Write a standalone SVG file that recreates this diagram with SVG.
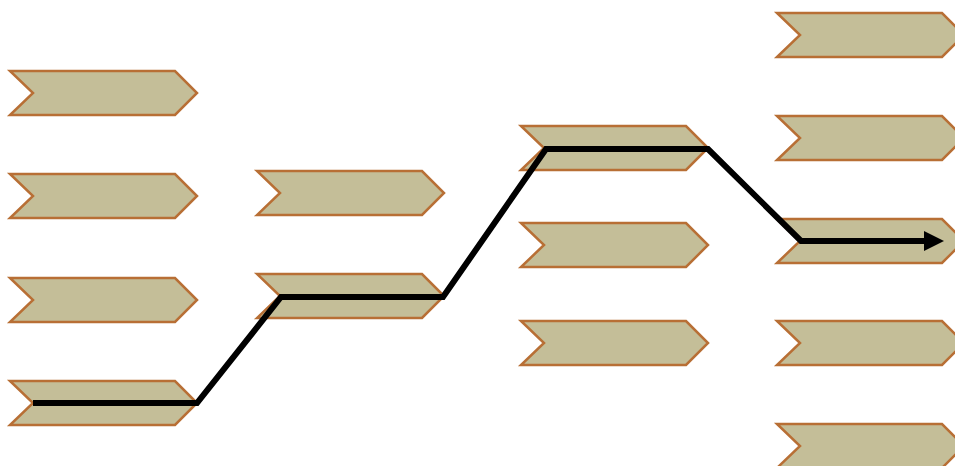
<svg xmlns="http://www.w3.org/2000/svg" width="955" height="466" viewBox="0 0 955 466">
<style>
.ch{fill:#c4be98;stroke:#b86f35;stroke-width:2.5;stroke-linejoin:miter}
.ln{fill:none;stroke:#000;stroke-width:6;stroke-linejoin:miter}
</style>
<defs>
<polygon id="chev" class="ch" points="0,0 165,0 187,22 165,44 0,44 23,22"/>
<marker id="ah" markerUnits="userSpaceOnUse" markerWidth="22" markerHeight="22" refX="0" refY="10" orient="auto" viewBox="0 0 22 20">
<polygon points="0,0 20,10 0,20" fill="#000"/>
</marker>
</defs>
<rect width="955" height="466" fill="#fff"/>
<g id="c1r1"><use href="#chev" x="10" y="71"/></g>
<g id="c1r2"><use href="#chev" x="10" y="174"/></g>
<g id="c1r3"><use href="#chev" x="10" y="278"/></g>
<g id="c1r4"><use href="#chev" x="10" y="381"/></g>
<g id="c2r1"><use href="#chev" x="257" y="171"/></g>
<g id="c2r2"><use href="#chev" x="257" y="274"/></g>
<g id="c3r1"><use href="#chev" x="521" y="126"/></g>
<g id="c3r2"><use href="#chev" x="521" y="223"/></g>
<g id="c3r3"><use href="#chev" x="521" y="321"/></g>
<g id="c4r1"><use href="#chev" x="777" y="13"/></g>
<g id="c4r2"><use href="#chev" x="777" y="116"/></g>
<g id="c4r3"><use href="#chev" x="777" y="219"/></g>
<g id="c4r4"><use href="#chev" x="777" y="321"/></g>
<g id="c4r5"><use href="#chev" x="777" y="424"/></g>
<g id="connectors">
<polyline class="ln" points="33,403 197,403 281,297 443,297 546,149 708,149 801,241 924,241" marker-end="url(#ah)"/>
</g>
</svg>
